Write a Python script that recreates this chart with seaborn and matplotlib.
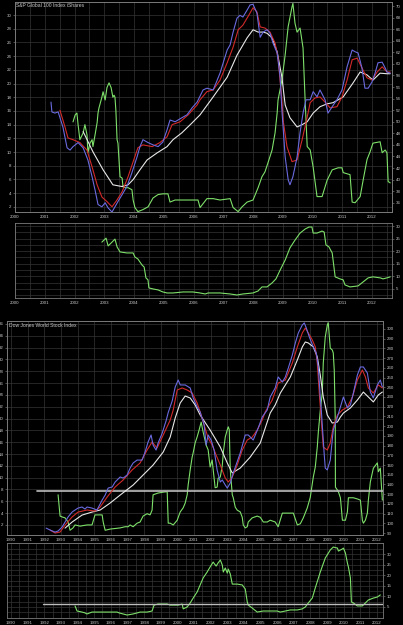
import numpy as np
import pandas as pd
import matplotlib
matplotlib.use("Agg")
import matplotlib.pyplot as plt
from matplotlib.ticker import MultipleLocator
import seaborn as sns

# ---- S&P Global 100 Index iShares (top panel) ----
spg_price_x = [2001.21, 2001.24, 2001.34, 2001.45, 2001.61, 2001.75, 2001.85, 2001.95, 2002.12, 2002.29,
               2002.45, 2002.59, 2002.69, 2002.79, 2002.92, 2003.03, 2003.13, 2003.26, 2003.36, 2003.46,
               2003.60, 2003.76, 2003.93, 2004.10, 2004.20, 2004.30, 2004.47, 2004.64, 2004.81, 2004.97,
               2005.11, 2005.21, 2005.38, 2005.61, 2005.78, 2005.95, 2006.12, 2006.32, 2006.45, 2006.66,
               2006.89, 2007.13, 2007.23, 2007.33, 2007.46, 2007.56, 2007.66, 2007.80, 2007.90, 2008.00,
               2008.13, 2008.24, 2008.34, 2008.47, 2008.57, 2008.67, 2008.81, 2008.91, 2008.97, 2009.08,
               2009.18, 2009.24, 2009.34, 2009.48, 2009.58, 2009.68, 2009.78, 2009.92, 2010.02, 2010.15,
               2010.25, 2010.42, 2010.52, 2010.66, 2010.82, 2010.99, 2011.16, 2011.33, 2011.43, 2011.53,
               2011.66, 2011.76, 2011.87, 2012.00, 2012.10, 2012.20, 2012.34, 2012.44, 2012.50, 2012.61]
spg_price_y = [53.4, 51.7, 51.5, 51.7, 49.1, 45.5, 45.1, 45.7, 46.4, 45.5,
               43.4, 40.5, 38.2, 35.7, 35.3, 36.0, 35.1, 34.4, 35.3, 36.2,
               37.4, 38.8, 41.2, 43.9, 45.7, 46.9, 46.4, 46.0, 45.7, 46.5,
               48.6, 50.3, 50.0, 50.7, 51.2, 52.4, 53.4, 55.5, 55.8, 55.5,
               58.4, 62.4, 63.3, 65.5, 67.9, 68.4, 68.1, 69.3, 70.2, 70.3,
               68.8, 64.6, 65.5, 65.9, 65.3, 63.6, 61.9, 57.7, 52.0, 43.9,
               40.0, 39.1, 40.5, 43.9, 48.1, 51.5, 53.8, 53.8, 55.2, 54.3,
               55.5, 53.8, 51.5, 52.6, 53.8, 55.5, 59.5, 62.4, 62.1, 61.9,
               59.3, 55.8, 55.8, 56.9, 58.4, 60.2, 60.3, 59.3, 58.6, 58.4]

spg_fast_x = [2001.51, 2001.68, 2001.78, 2001.95, 2002.18, 2002.42, 2002.59, 2002.76, 2002.92, 2003.09,
              2003.26, 2003.43, 2003.60, 2003.80, 2003.97, 2004.13, 2004.30, 2004.61, 2004.87, 2005.11,
              2005.28, 2005.55, 2005.82, 2006.12, 2006.22, 2006.45, 2006.66, 2006.89, 2007.13, 2007.33,
              2007.50, 2007.66, 2007.90, 2008.00, 2008.13, 2008.24, 2008.40, 2008.57, 2008.74, 2008.84,
              2008.97, 2009.01, 2009.14, 2009.31, 2009.48, 2009.65, 2009.82, 2009.92, 2010.08, 2010.25,
              2010.42, 2010.59, 2010.82, 2010.99, 2011.16, 2011.33, 2011.50, 2011.66, 2011.83, 2012.00,
              2012.17, 2012.34, 2012.50, 2012.61]
spg_fast_y = [52.0, 49.1, 47.2, 46.9, 46.4, 45.1, 42.2, 39.1, 37.0, 36.2,
              35.3, 36.5, 37.9, 40.5, 43.1, 45.5, 46.0, 45.7, 46.4, 47.4,
              49.5, 50.0, 51.2, 52.9, 53.8, 55.2, 55.5, 57.2, 60.2, 62.9,
              65.9, 66.7, 68.8, 69.7, 69.0, 66.4, 66.2, 65.5, 63.6, 61.0,
              53.8, 50.3, 45.7, 43.1, 43.4, 46.9, 50.8, 53.3, 54.1, 54.3,
              53.4, 52.4, 52.6, 54.3, 57.2, 60.7, 61.0, 59.3, 57.6, 57.2,
              58.6, 59.5, 58.6, 58.6]

spg_slow_x = [2002.29, 2002.62, 2002.96, 2003.29, 2003.60, 2003.80, 2003.97, 2004.20, 2004.44, 2004.77,
              2005.11, 2005.31, 2005.61, 2005.95, 2006.22, 2006.66, 2007.13, 2007.46, 2007.80, 2008.00,
              2008.17, 2008.34, 2008.47, 2008.64, 2008.81, 2008.97, 2009.08, 2009.24, 2009.48, 2009.65,
              2009.82, 2010.02, 2010.25, 2010.49, 2010.69, 2011.03, 2011.36, 2011.60, 2011.83, 2012.03,
              2012.27, 2012.50, 2012.61]
spg_slow_y = [48.3, 44.8, 41.7, 39.1, 38.8, 39.1, 40.0, 41.7, 43.4, 44.6,
              45.7, 46.9, 48.1, 49.8, 51.2, 54.3, 57.7, 61.5, 64.5, 65.9,
              65.5, 65.5, 65.3, 64.5, 62.1, 57.7, 52.9, 50.7, 49.1, 49.5,
              50.0, 51.5, 52.6, 53.1, 53.3, 54.3, 56.7, 58.6, 58.1, 57.2,
              58.4, 58.3, 58.3]

spg_osc_x = [2001.95, 2002.02, 2002.08, 2002.12, 2002.18, 2002.29, 2002.35, 2002.42, 2002.45, 2002.52,
             2002.59, 2002.62, 2002.69, 2002.76, 2002.79, 2002.82, 2002.92, 2002.96, 2003.03, 2003.09,
             2003.16, 2003.23, 2003.29, 2003.33, 2003.36, 2003.39, 2003.43, 2003.46, 2003.53, 2003.60,
             2003.63, 2003.70, 2003.80, 2003.93, 2003.97, 2004.03, 2004.13, 2004.30, 2004.47, 2004.64,
             2004.81, 2004.97, 2005.14, 2005.21, 2005.38, 2005.71, 2006.15, 2006.22, 2006.45, 2006.66,
             2006.89, 2007.23, 2007.33, 2007.50, 2007.63, 2007.80, 2008.00, 2008.17, 2008.30, 2008.40,
             2008.50, 2008.64, 2008.74, 2008.81, 2008.84, 2008.97, 2009.08, 2009.18, 2009.31, 2009.34,
             2009.41, 2009.48, 2009.58, 2009.68, 2009.75, 2009.82, 2009.92, 2010.02, 2010.15, 2010.32,
             2010.49, 2010.66, 2010.86, 2010.99, 2011.03, 2011.26, 2011.33, 2011.43, 2011.60, 2011.70,
             2011.83, 2011.93, 2012.03, 2012.27, 2012.34, 2012.44, 2012.50, 2012.54, 2012.61]
spg_osc_y = [14.4, 15.4, 15.7, 14.0, 11.8, 12.8, 14.0, 12.5, 9.9, 11.3,
             11.8, 10.8, 12.5, 14.3, 15.7, 16.4, 18.0, 18.8, 17.6, 19.4,
             20.1, 19.4, 18.0, 18.3, 18.0, 16.1, 11.8, 11.3, 6.4, 6.2,
             4.9, 4.8, 4.8, 4.5, 3.0, 1.9, 1.3, 1.6, 2.0, 3.3,
             3.8, 3.9, 3.9, 2.7, 3.0, 3.0, 3.0, 1.9, 3.2, 3.2,
             3.0, 3.2, 1.9, 1.3, 2.0, 2.7, 3.0, 4.8, 6.4, 7.1,
             8.4, 10.3, 12.8, 15.7, 17.6, 20.5, 24.2, 28.3, 31.2, 31.7,
             28.8, 27.5, 28.1, 25.2, 17.6, 10.8, 10.3, 7.8, 3.5, 3.5,
             5.9, 7.4, 7.7, 7.7, 7.0, 6.7, 2.7, 2.6, 3.5, 5.9,
             8.9, 10.0, 11.3, 11.5, 9.9, 10.3, 9.9, 5.7, 5.5]

spg_lower_x = [2002.92, 2003.06, 2003.13, 2003.26, 2003.36, 2003.43, 2003.53, 2003.76, 2003.97, 2004.03,
               2004.13, 2004.27, 2004.34, 2004.40, 2004.47, 2004.50, 2004.64, 2004.81, 2004.97, 2005.11,
               2005.31, 2005.65, 2005.98, 2006.22, 2006.39, 2006.49, 2006.89, 2007.23, 2007.46, 2007.66,
               2008.00, 2008.17, 2008.30, 2008.47, 2008.64, 2008.77, 2008.91, 2009.08, 2009.24, 2009.41,
               2009.58, 2009.75, 2009.88, 2009.98, 2010.02, 2010.15, 2010.32, 2010.39, 2010.45, 2010.55,
               2010.66, 2010.76, 2010.92, 2011.03, 2011.09, 2011.26, 2011.53, 2011.70, 2011.87, 2012.03,
               2012.27, 2012.37, 2012.50, 2012.61]
spg_lower_y = [23.6, 25.2, 22.1, 23.6, 24.8, 21.7, 19.7, 19.3, 19.3, 17.7,
               16.9, 14.5, 13.7, 9.4, 8.6, 5.4, 5.0, 4.6, 3.8, 3.4,
               3.4, 3.8, 3.8, 3.4, 3.0, 3.4, 3.4, 3.0, 2.6, 3.0,
               3.4, 4.2, 5.8, 5.8, 7.4, 9.0, 12.5, 16.5, 21.3, 24.4,
               27.2, 28.8, 29.6, 29.6, 27.2, 27.2, 28.0, 27.6, 22.5, 21.7,
               19.3, 9.8, 9.0, 8.6, 6.6, 5.8, 6.2, 7.8, 9.4, 9.8,
               9.4, 9.0, 9.4, 9.8]

# ---- Dow Jones World Stock Index (bottom panel) ----
djw_price_x = [1992.11, 1992.35, 1992.65, 1992.83, 1993.07, 1993.25, 1993.43, 1993.67, 1993.85, 1994.03,
               1994.27, 1994.45, 1994.57, 1994.87, 1995.17, 1995.48, 1995.66, 1995.84, 1996.08, 1996.26,
               1996.56, 1996.74, 1996.98, 1997.16, 1997.34, 1997.58, 1997.88, 1998.06, 1998.24, 1998.42,
               1998.54, 1998.72, 1998.84, 1999.09, 1999.33, 1999.45, 1999.69, 1999.87, 2000.05, 2000.17,
               2000.47, 2000.77, 2000.95, 2001.19, 2001.37, 2001.61, 2001.73, 2001.85, 2002.03, 2002.21,
               2002.39, 2002.58, 2002.70, 2002.88, 2003.00, 2003.18, 2003.36, 2003.78, 2004.08, 2004.26,
               2004.56, 2004.86, 2005.10, 2005.40, 2005.58, 2005.88, 2006.06, 2006.31, 2006.49, 2006.67,
               2006.91, 2007.09, 2007.27, 2007.51, 2007.63, 2007.75, 2007.93, 2008.17, 2008.35, 2008.47,
               2008.59, 2008.65, 2008.71, 2008.77, 2008.83, 2008.89, 2009.01, 2009.19, 2009.37, 2009.62,
               2009.80, 2009.98, 2010.22, 2010.40, 2010.58, 2010.82, 2011.00, 2011.18, 2011.42, 2011.60,
               2011.78, 2012.02, 2012.20, 2012.32]
djw_price_y = [95.1, 93.1, 91.0, 92.1, 96.2, 101.3, 106.5, 111.6, 113.7, 115.7,
               116.8, 114.7, 116.8, 115.7, 113.7, 124.0, 129.1, 136.3, 137.4, 142.5,
               147.7, 146.6, 149.7, 156.9, 162.1, 165.1, 165.1, 173.4, 183.7, 190.9,
               180.6, 175.4, 182.6, 192.9, 206.0, 214.0, 226.0, 240.3, 247.5, 242.4,
               242.4, 239.3, 229.0, 219.7, 214.6, 201.2, 180.6, 190.9, 185.7, 175.4,
               154.9, 142.5, 144.6, 139.4, 136.3, 141.5, 151.8, 172.4, 190.9, 190.9,
               185.7, 198.1, 209.4, 216.6, 230.0, 239.3, 250.6, 245.4, 250.6, 259.9,
               273.2, 285.6, 295.9, 304.1, 306.2, 301.0, 291.8, 281.5, 275.3, 260.9,
               230.0, 216.6, 201.2, 185.7, 170.3, 156.9, 154.9, 165.1, 196.0, 209.4,
               219.7, 230.0, 218.7, 221.8, 234.1, 252.6, 260.9, 260.9, 254.7, 235.1,
               229.0, 242.4, 247.5, 240.3]

djw_fast_x = [1992.35, 1992.65, 1992.95, 1993.25, 1993.67, 1994.03, 1994.57, 1995.05, 1995.36, 1995.78,
              1996.26, 1996.74, 1997.28, 1997.76, 1998.18, 1998.48, 1998.78, 1999.15, 1999.57, 1999.75,
              1999.99, 2000.29, 2000.59, 2000.89, 2001.19, 2001.37, 2001.61, 2001.85, 2002.09, 2002.33,
              2002.58, 2002.88, 2003.06, 2003.30, 2003.60, 2003.90, 2004.20, 2004.50, 2004.80, 2005.10,
              2005.28, 2005.70, 2006.06, 2006.49, 2006.91, 2007.21, 2007.51, 2007.69, 2007.87, 2008.11,
              2008.29, 2008.41, 2008.53, 2008.65, 2008.77, 2009.01, 2009.19, 2009.37, 2009.62, 2009.92,
              2010.22, 2010.52, 2010.82, 2011.12, 2011.30, 2011.48, 2011.78, 2012.08, 2012.32]
djw_fast_y = [93.1, 90.0, 91.0, 98.2, 106.5, 111.6, 113.7, 112.6, 116.8, 127.1,
              137.4, 144.6, 154.9, 162.1, 175.4, 183.7, 177.5, 190.9, 206.3, 216.6,
              237.2, 239.3, 237.2, 234.1, 223.8, 214.6, 201.2, 187.8, 180.6, 170.3,
              160.0, 146.6, 142.5, 147.6, 160.0, 175.4, 185.7, 188.8, 196.0, 206.3,
              214.6, 226.9, 244.4, 247.5, 265.0, 281.5, 295.9, 301.0, 295.9, 288.7,
              281.5, 265.0, 234.1, 206.3, 178.5, 175.4, 182.6, 199.1, 211.5, 216.6,
              219.7, 230.0, 247.5, 257.8, 250.6, 239.3, 234.1, 242.4, 239.3]

djw_slow_x = [1993.25, 1993.67, 1994.27, 1994.87, 1995.36, 1995.96, 1996.56, 1997.34, 1997.94, 1998.54,
              1999.15, 1999.57, 1999.87, 2000.17, 2000.47, 2000.77, 2001.07, 2001.37, 2001.97, 2002.58,
              2003.00, 2003.30, 2003.78, 2004.38, 2004.98, 2005.58, 2005.88, 2006.19, 2006.79, 2007.21,
              2007.51, 2007.69, 2007.87, 2008.17, 2008.41, 2008.59, 2008.77, 2009.01, 2009.31, 2009.62,
              2009.80, 2009.98, 2010.40, 2010.82, 2011.18, 2011.48, 2011.78, 2012.08, 2012.32]
djw_slow_y = [95.1, 101.3, 108.5, 111.6, 113.7, 120.9, 129.1, 139.4, 149.7, 160.0,
              173.4, 188.8, 208.4, 223.8, 231.0, 229.0, 221.8, 211.5, 196.0, 178.5,
              162.1, 151.8, 156.9, 168.2, 182.6, 213.5, 221.8, 234.1, 250.6, 268.1,
              281.5, 286.6, 285.6, 281.5, 271.2, 252.6, 230.0, 211.5, 203.2, 204.3,
              209.4, 213.5, 218.7, 226.9, 235.1, 230.0, 224.9, 232.1, 235.1]

djw_osc_x = [1992.83, 1992.95, 1993.13, 1993.25, 1993.43, 1993.55, 1993.73, 1993.85, 1994.15, 1994.57,
             1994.87, 1995.05, 1995.48, 1995.54, 1995.66, 1995.96, 1996.56, 1996.86, 1997.04, 1997.16,
             1997.34, 1997.58, 1997.76, 1997.94, 1998.18, 1998.36, 1998.48, 1998.54, 1998.84, 1999.27,
             1999.39, 1999.45, 1999.57, 1999.75, 1999.99, 2000.17, 2000.35, 2000.47, 2000.59, 2000.65,
             2000.77, 2000.89, 2000.95, 2001.07, 2001.19, 2001.31, 2001.43, 2001.55, 2001.73, 2001.85,
             2001.97, 2002.09, 2002.21, 2002.27, 2002.39, 2002.45, 2002.58, 2002.70, 2002.76, 2002.88,
             2003.00, 2003.06, 2003.12, 2003.18, 2003.30, 2003.36, 2003.48, 2003.60, 2003.78, 2003.90,
             2003.96, 2004.08, 2004.20, 2004.26, 2004.50, 2004.80, 2004.98, 2005.10, 2005.16, 2005.40,
             2005.58, 2005.88, 2006.06, 2006.31, 2006.79, 2006.97, 2007.21, 2007.39, 2007.57, 2007.81,
             2007.99, 2008.17, 2008.29, 2008.41, 2008.47, 2008.59, 2008.71, 2008.77, 2008.89, 2009.01,
             2009.07, 2009.19, 2009.31, 2009.37, 2009.43, 2009.49, 2009.50, 2009.62, 2009.68, 2009.80,
             2009.92, 2010.10, 2010.22, 2010.28, 2010.58, 2010.82, 2011.00, 2011.12, 2011.18, 2011.30,
             2011.42, 2011.48, 2011.60, 2011.78, 2012.02, 2012.08, 2012.20, 2012.32]
djw_osc_y = [7.1, 3.5, 3.3, 3.2, 2.5, 1.1, 1.5, 2.0, 1.8, 2.0,
             2.0, 3.7, 3.7, 2.5, 1.1, 1.3, 1.5, 1.7, 1.7, 2.0,
             1.7, 2.3, 2.5, 3.5, 3.9, 3.7, 4.5, 7.1, 7.4, 7.6,
             7.6, 2.3, 2.3, 2.0, 2.8, 4.2, 4.9, 5.7, 7.1, 8.8,
             11.3, 13.5, 14.2, 15.9, 16.9, 18.1, 19.4, 17.7, 15.5, 14.7,
             11.8, 13.0, 9.9, 8.3, 8.4, 9.9, 10.1, 12.1, 14.2, 16.9,
             18.1, 18.6, 18.1, 11.3, 7.1, 6.6, 5.0, 4.5, 4.2, 3.3,
             2.0, 1.5, 1.7, 2.5, 3.2, 3.5, 3.3, 2.8, 2.5, 2.5,
             2.8, 2.5, 1.7, 4.0, 4.0, 4.0, 2.0, 2.2, 3.2, 4.9,
             6.7, 10.1, 11.8, 15.2, 17.6, 21.4, 24.3, 29.4, 33.8, 35.8,
             36.2, 31.9, 31.6, 31.1, 28.2, 19.8, 8.4, 7.9, 7.6, 6.6,
             2.8, 2.8, 4.2, 6.6, 6.6, 6.4, 6.2, 2.8, 2.3, 2.8,
             4.0, 6.2, 9.3, 11.6, 12.5, 11.0, 11.6, 6.2]

djw_lower_x = [1993.85, 1993.97, 1994.27, 1994.45, 1994.57, 1994.87, 1995.17, 1995.78, 1996.38, 1996.50,
               1996.74, 1996.98, 1997.34, 1997.58, 1997.76, 1998.18, 1998.48, 1998.60, 1998.84, 1999.39,
               1999.57, 2000.05, 2000.29, 2000.35, 2000.59, 2000.77, 2000.95, 2001.19, 2001.37, 2001.55,
               2001.79, 2001.97, 2002.15, 2002.33, 2002.45, 2002.58, 2002.70, 2002.76, 2002.88, 2003.00,
               2003.06, 2003.18, 2003.30, 2003.60, 2003.90, 2004.08, 2004.20, 2004.26, 2004.50, 2004.80,
               2005.16, 2005.58, 2006.00, 2006.19, 2006.49, 2006.79, 2007.21, 2007.51, 2007.69, 2007.87,
               2008.11, 2008.29, 2008.59, 2008.89, 2009.19, 2009.37, 2009.62, 2009.68, 2009.92, 2009.98,
               2010.10, 2010.22, 2010.28, 2010.40, 2010.46, 2010.58, 2010.82, 2011.12, 2011.30, 2011.48,
               2011.78, 2012.02, 2012.20]
djw_lower_y = [5.5, 3.1, 2.6, 2.2, 1.7, 2.6, 2.6, 2.6, 2.6, 2.2,
               1.7, 1.2, 1.7, 2.2, 2.6, 2.6, 3.1, 5.9, 6.4, 6.4,
               5.9, 5.9, 6.4, 4.1, 5.0, 6.9, 9.2, 12.1, 15.4, 18.7,
               21.5, 23.9, 26.2, 24.3, 25.8, 27.2, 24.8, 21.5, 23.4, 21.0,
               22.9, 20.6, 15.8, 15.8, 15.4, 13.5, 7.4, 5.9, 4.5, 2.6,
               3.1, 3.1, 3.1, 2.6, 3.1, 3.6, 3.6, 4.1, 5.0, 6.9,
               9.2, 14.0, 21.5, 28.1, 31.9, 33.3, 32.8, 31.4, 32.4, 32.8,
               30.5, 25.8, 23.9, 18.7, 7.4, 6.9, 5.5, 5.5, 6.9, 8.3,
               9.2, 9.7, 10.7]

djw_main_level = 7.7
djw_main_level_span = [1991.56, 2012.36]
djw_lower_level = 6.4
djw_lower_level_span = [1991.9, 2012.36]

spg_years = list(range(2000, 2013))
djw_years = list(range(1990, 2013))

# ---- styling ----
sns.set_theme(style="dark", rc={
    "figure.facecolor": "black", "axes.facecolor": "black",
    "axes.edgecolor": "#7a7a7a", "grid.color": "#343434", "grid.linewidth": 0.5,
    "xtick.color": "#8a8a8a", "ytick.color": "#8a8a8a",
    "text.color": "#c8c8c8", "axes.linewidth": 0.6,
})
plt.rcParams["font.family"] = ["Liberation Sans", "DejaVu Sans"]

C_PRICE = "#6a6ae0"
C_FAST = "#d22a2a"
C_SLOW = "#e8e8e8"
C_OSC = "#7ee06a"
C_LEVEL = "#bdbdbd"
FS = 3.2

fig = plt.figure(figsize=(4.03, 6.25), dpi=100)
W, H = 403.0, 625.0


def add_axes(x0, x1, y0, y1):
    return fig.add_axes([x0 / W, 1 - y1 / H, (x1 - x0) / W, (y1 - y0) / H])


def draw(ax, x, y, color, lw=0.8):
    sns.lineplot(x=x, y=y, ax=ax, color=color, lw=lw, estimator=None,
                 sort=False, legend=False)


def style(ax, years, minor=None):
    ax.set_xticks(years)
    ax.set_xticklabels([str(v) for v in years], fontsize=FS, color="#c8c8c8")
    if minor:
        ax.xaxis.set_minor_locator(MultipleLocator(minor))
    ax.grid(True, which="both", axis="both")
    ax.tick_params(axis="both", which="major", length=1.5, width=0.4, pad=1,
                   labelsize=FS, labelcolor="#c8c8c8")
    ax.tick_params(axis="x", which="minor", length=0)
    ax.set_xlabel("")
    ax.set_ylabel("")
    for s in ax.spines.values():
        s.set_color("#7a7a7a")
        s.set_linewidth(0.6)


# ---- top main panel ----
ax1 = add_axes(15, 392, 2, 212)
draw(ax1, spg_osc_x, spg_osc_y, C_OSC)
ax1.set_xlim(2000.0, 2012.67)
ax1.set_ylim(1.25, 31.9)
ax1.set_yticks(list(range(2, 31, 2)))
style(ax1, spg_years, minor=0.5)
ax1.text(0.003, 0.995, "S&P Global 100 Index iShares", transform=ax1.transAxes,
         fontsize=3.6, color="#c8c8c8", va="top", ha="left")
ax1r = ax1.twinx()
draw(ax1r, spg_slow_x, spg_slow_y, C_SLOW)
draw(ax1r, spg_fast_x, spg_fast_y, C_FAST)
draw(ax1r, spg_price_x, spg_price_y, C_PRICE)
ax1r.set_ylim(34.4, 70.7)
ax1r.set_yticks(list(range(36, 71, 2)))
ax1r.grid(False)
ax1r.tick_params(axis="y", length=1.5, width=0.4, pad=1, labelsize=FS, labelcolor="#c8c8c8")
ax1r.set_ylabel("")

# ---- top lower panel ----
ax2 = add_axes(15, 392, 223, 298)
draw(ax2, spg_lower_x, spg_lower_y, C_OSC)
ax2.set_xlim(2000.0, 2012.67)
ax2.set_ylim(1.4, 31.2)
ax2.set_yticks([5, 10, 15, 20, 25, 30])
ax2.yaxis.set_minor_locator(MultipleLocator(2.5))
style(ax2, spg_years, minor=0.5)
ax2.yaxis.tick_right()
ax2.tick_params(axis="y", which="minor", length=0)

# ---- Dow main panel ----
ax3 = add_axes(7, 383, 321, 535)
draw(ax3, djw_osc_x, djw_osc_y, C_OSC)
draw(ax3, djw_main_level_span, [djw_main_level, djw_main_level], C_LEVEL, lw=1.2)
ax3.set_xlim(1989.76, 2012.36)
ax3.set_ylim(0.3, 36.5)
ax3.set_yticks(list(range(2, 37, 2)))
style(ax3, djw_years)
ax3.text(0.004, 0.99, "Dow Jones World Stock Index", transform=ax3.transAxes,
         fontsize=3.6, color="#c8c8c8", va="top", ha="left")
ax3r = ax3.twinx()
draw(ax3r, djw_slow_x, djw_slow_y, C_SLOW)
draw(ax3r, djw_fast_x, djw_fast_y, C_FAST)
draw(ax3r, djw_price_x, djw_price_y, C_PRICE)
ax3r.set_ylim(88, 308.2)
ax3r.set_yticks(list(range(90, 301, 10)))
ax3r.grid(False)
ax3r.tick_params(axis="y", length=1.5, width=0.4, pad=1, labelsize=FS, labelcolor="#c8c8c8")
ax3r.set_ylabel("")

# ---- Dow lower panel ----
ax4 = add_axes(7, 383, 543, 618)
draw(ax4, djw_lower_x, djw_lower_y, C_OSC)
draw(ax4, djw_lower_level_span, [djw_lower_level, djw_lower_level], C_LEVEL, lw=1.0)
ax4.set_xlim(1989.76, 2012.36)
ax4.set_ylim(-0.2, 35.2)
ax4.set_yticks([5, 10, 15, 20, 25, 30])
ax4.yaxis.set_minor_locator(MultipleLocator(2.5))
style(ax4, djw_years, minor=0.5)
ax4.yaxis.tick_right()
ax4.tick_params(axis="y", which="minor", length=0)

fig.savefig("out.png", dpi=100, facecolor="black")
